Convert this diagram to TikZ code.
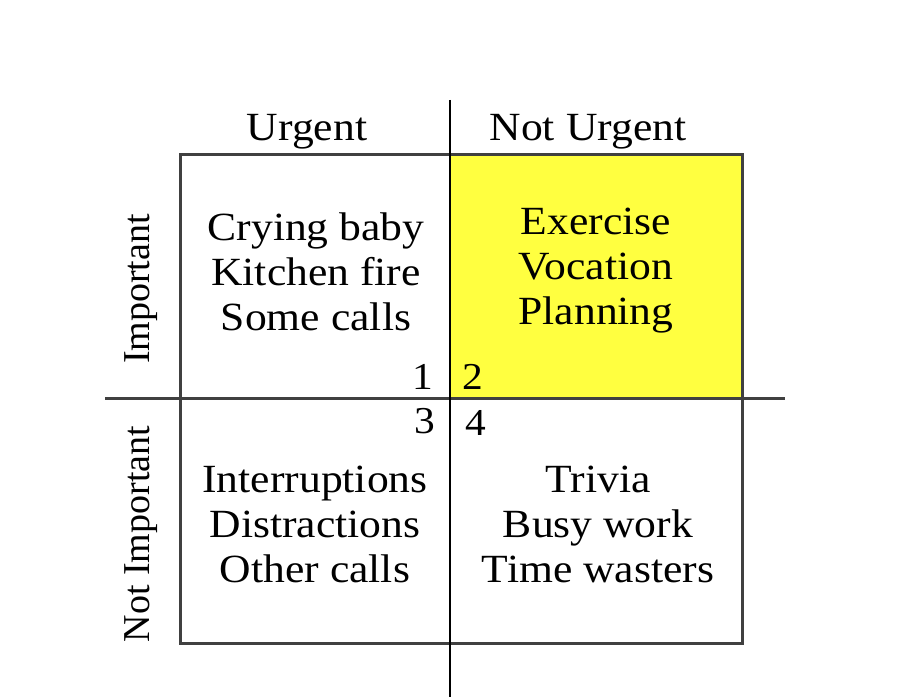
\documentclass[tikz,border=0pt]{standalone}
\usepackage{fontspec}
\setmainfont{Liberation Serif}[FakeStretch=1.09]
\newfontfamily\sidefont{Liberation Serif}
\usepackage{xcolor,tikz}
\usetikzlibrary{positioning}
\definecolor{hiyellow}{HTML}{FFFF40}
\definecolor{boxgray}{HTML}{404040}

\begin{document}
\begin{tikzpicture}[x=1pt,y=-1pt,cell/.style={align=center,font=\fontsize{40}{45}\selectfont,inner sep=0pt},head/.style={font=\fontsize{40}{45}\selectfont,inner sep=0pt},side/.style={font=\sidefont\fontsize{38}{40}\selectfont,inner sep=0pt,rotate=90},num/.style={font=\fontsize{38}{40}\selectfont,inner sep=0pt},frame/.style={draw=boxgray,line width=3pt},axis/.style={draw=black,line width=1.5pt}]
\useasboundingbox (0,0) rectangle (900,700);
% quadrant 2 highlight and outer box
\fill[hiyellow] (450,155) rectangle (742,399);
\draw[frame] (180,155) rectangle (742,643);
\coordinate (hl) at (105,399);\coordinate (hr) at (785,399);
\coordinate (vt) at (450,100);\coordinate (vb) at (450,697);
\draw[frame] (hl)--(hr);
\draw[axis] (vt)--(vb);
% column and row headings
\node[head] (urg) at (307,132) {Urgent};
\node[head] (nurg) at (588,132) {Not Urgent};
\node[side] (imp) at (141,289) {Important};
\node[side] (nimp) at (141,534) {Not Important};
% quadrant contents
\node[cell] (q1) at (316,272) {Crying baby\\Kitchen fire\\Some calls};
\node[cell] (q2) at (596,271) {Exercise\\Vocation\\Planning};
\node[cell] (q3) at (315,524) {Interruptions\\Distractions\\Other calls};
\node[cell] (q4) at (598,524) {Trivia\\Busy work\\Time wasters};
\node[num] (n1) at (423,377) {1};
\node[num] (n2) at (473,377) {2};
\node[num] (n3) at (425,421) {3};
\node[num] (n4) at (476,423) {4};
\end{tikzpicture}
\end{document}
